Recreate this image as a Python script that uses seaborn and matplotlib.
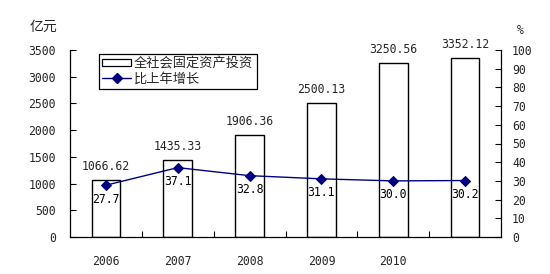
import matplotlib
matplotlib.use("Agg")
import matplotlib.pyplot as plt
import seaborn as sns
import pandas as pd
from matplotlib.patches import Patch
from matplotlib.lines import Line2D
from matplotlib.ticker import FixedLocator

years = ["2006", "2007", "2008", "2009", "2010", "2011"]
investment = [1066.62, 1435.33, 1906.36, 2500.13, 3250.56, 3352.12]
growth = [27.7, 37.1, 32.8, 31.1, 30.0, 30.2]
x_labels = ["2006", "2007", "2008", "2009", "2010", ""]
bar_name = "全社会固定资产投资"
line_name = "比上年增长"
left_unit = "亿元"
right_unit = "%"

sns.set_style("white")
plt.rcParams['font.family'] = ['Noto Sans CJK SC', 'DejaVu Sans']
mono = ['DejaVu Sans Mono']

df = pd.DataFrame({"year": years, "inv": investment, "g": growth})

fig = plt.figure(figsize=(5.5, 2.74), dpi=100)
ax = fig.add_axes([70/550, 1-237/274, 431/550, 187/274])

sns.barplot(data=df, x="year", y="inv", ax=ax, color="white", edgecolor="black",
            linewidth=1.0, width=0.4, saturation=1)
ax.set_ylim(0, 3500)
ax.set_yticks(range(0, 3501, 500))
ax.set_xlabel("")
ax.set_ylabel("")
ax.bar_label(ax.containers[0], fmt="%.2f", padding=5, fontsize=8.3, family=mono)

ax.set_xticks(range(len(years)))
ax.set_xticklabels(x_labels, family=mono, fontsize=8.3)
ax.tick_params(axis="x", length=0, pad=13)
ax.xaxis.set_minor_locator(FixedLocator([i + 0.5 for i in range(len(years) - 1)]))
ax.tick_params(axis="x", which="minor", direction="in", length=4, width=0.8, color="black", top=False, bottom=True)
ax.tick_params(axis="y", direction="in", length=4, width=0.8, color="black", pad=10, labelsize=8.3)
for lbl in ax.get_yticklabels():
    lbl.set_family(mono)
ax.set_xlim(-0.5, len(years) - 0.5)

for s in ["left", "bottom"]:
    ax.spines[s].set_color("black")
    ax.spines[s].set_linewidth(0.9)
ax.spines["top"].set_visible(False)
ax.spines["right"].set_visible(False)

ax2 = ax.twinx()
sns.pointplot(data=df, x="year", y="g", ax=ax2, color="#000080", markers="D",
              markersize=5, linewidth=1.0)
ax2.set_ylim(0, 100)
ax2.set_xlim(-0.5, len(years) - 0.5)
ax2.set_yticks(range(0, 101, 10))
ax2.set_ylabel("")
ax2.set_xlabel("")
ax2.tick_params(axis="y", direction="in", length=4, width=0.8, color="black", pad=8, labelsize=8.3)
for lbl in ax2.get_yticklabels():
    lbl.set_family(mono)
ax2.spines["right"].set_color("black")
ax2.spines["right"].set_linewidth(0.9)
for s in ["top", "left", "bottom"]:
    ax2.spines[s].set_visible(False)
ax2.tick_params(axis="x", length=0, labelbottom=False)

for i, v in enumerate(growth):
    ax2.annotate(f"{v:.1f}", (i, v), xytext=(0, -10), textcoords="offset points",
                 ha="center", va="center", fontsize=8.3, family=mono, color="black")

handles = [Patch(facecolor="white", edgecolor="black", linewidth=0.9),
           Line2D([0], [0], color="#000080", marker="D", markersize=5, linewidth=1.0)]
leg = ax2.legend(handles, [bar_name, line_name], loc="upper left",
                 bbox_to_anchor=(29/431, 183/187), borderaxespad=0, fontsize=9.5,
                 frameon=True, fancybox=False, framealpha=1, edgecolor="black",
                 handlelength=2.2, handleheight=0.5, borderpad=0.25, labelspacing=0.15,
                 handletextpad=0.2)
leg.get_frame().set_linewidth(0.9)

fig.text(30/550, 1-27/274, left_unit, fontsize=10, va="center", ha="left")
fig.text(520/550, 1-30/274, right_unit, fontsize=8.3, va="center", ha="center", family=mono)

fig.savefig("out.png", dpi=100)
